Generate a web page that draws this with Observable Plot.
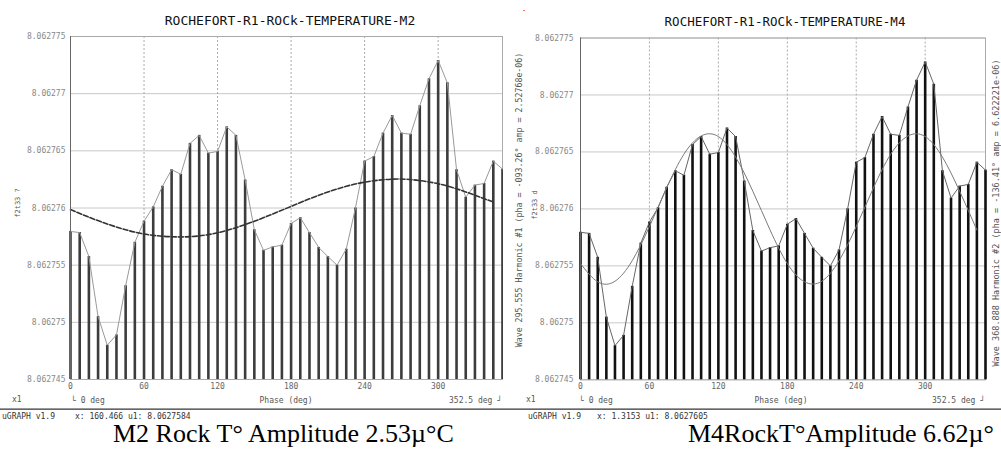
<!DOCTYPE html>
<html>
<head>
<meta charset="utf-8">
<script src="https://cdn.jsdelivr.net/npm/d3@7"></script>
<script src="https://cdn.jsdelivr.net/npm/@observablehq/plot@0.6"></script>
<style>
  html, body { margin: 0; padding: 0; background: #fff; }
  #wrap { position: relative; width: 1001px; height: 449px; overflow: hidden; background: #fff; }
  .t { position: absolute; white-space: nowrap; font-family: "DejaVu Sans Mono", monospace; color: #555; font-size: 8px; line-height: 8px; }
  .title { font-size: 13px; line-height: 13px; color: #111; transform: translateX(-50%); }
  .rot { transform: translate(-50%, -50%) rotate(-90deg); }
  .cap { position: absolute; white-space: nowrap; font-family: "Liberation Serif", "Times New Roman", serif; font-size: 26px; line-height: 26px; color: #000; }
  .sep { position: absolute; left: 0; width: 1001px; top: 408px; height: 1px; background: #999; border-bottom: 1px solid #666; }
  .panel { position: absolute; top: 0; }
</style>
</head>
<body>
<div id="wrap"></div>
<script>
// ---- data ----
const phases = [0, 7.5, 15, 22.5, 30, 37.5, 45, 52.5, 60, 67.5, 75, 82.5, 90, 97.5, 105, 112.5,
  120, 127.5, 135, 142.5, 150, 157.5, 165, 172.5, 180, 187.5, 195, 202.5, 210, 217.5, 225, 232.5,
  240, 247.5, 255, 262.5, 270, 277.5, 285, 292.5, 300, 307.5, 315, 322.5, 330, 337.5, 345, 352.5];
const rockTemp = [8.06275795, 8.06275785, 8.06275575, 8.0627505, 8.062748, 8.0627489, 8.0627532, 8.062757,
  8.06275885, 8.0627601, 8.0627619, 8.06276335, 8.06276295, 8.06276565, 8.06276635, 8.0627648,
  8.06276495, 8.0627671, 8.06276635, 8.06276245, 8.0627581, 8.0627563, 8.0627566, 8.06275675,
  8.06275865, 8.06275915, 8.06275785, 8.06275655, 8.06275575, 8.062755, 8.0627564, 8.06276,
  8.0627641, 8.0627645, 8.06276655, 8.0627681, 8.06276655, 8.06276645, 8.06276895, 8.0627713,
  8.0627729, 8.06277095, 8.06276335, 8.06276095, 8.062762, 8.06276215, 8.0627641, 8.0627634];
const fitPhases = [0, 15, 30, 45, 60, 75, 90, 105, 120, 135, 150, 165, 180, 195, 210, 225, 240, 255, 270, 285, 300, 315, 330, 345];
const fitM2 = [8.06275986, 8.0627592, 8.0627586, 8.0627581, 8.06275772, 8.06275753, 8.06275747, 8.06275756,
  8.06275783, 8.06275828, 8.06275884, 8.06275948, 8.06276014, 8.0627608, 8.0627614, 8.0627619,
  8.06276226, 8.06276247, 8.06276253, 8.0627624, 8.06276212, 8.06276168, 8.06276112, 8.06276052];
const fitM4 = [8.0627552, 8.0627536, 8.06275365, 8.06275545, 8.06275845, 8.06276185, 8.0627648, 8.0627664,
  8.06276635, 8.06276455, 8.06276155, 8.06275815, 8.0627552, 8.0627536, 8.06275365, 8.06275545,
  8.06275845, 8.06276185, 8.0627648, 8.0627664, 8.06276635, 8.06276455, 8.06276155, 8.06275815];
const yTicks = [8.062745, 8.06275, 8.062755, 8.06276, 8.062765, 8.06277, 8.062775];
const yTickLabels = ["8.062745", "8.06275", "8.062755", "8.06276", "8.062765", "8.06277", "8.062775"];
const xTicks = [0, 60, 120, 180, 240, 300];
const xGrid = [60, 120, 180, 240, 300];

const bars = phases.map((p, i) => ({phase: p, value: rockTemp[i]}));
const m2 = fitPhases.map((p, i) => ({phase: p, value: fitM2[i]}));
const m4 = fitPhases.map((p, i) => ({phase: p, value: fitM4[i]}));
const yBase = yTicks[0];

function makePanel(o) {
  return Plot.plot({
    width: o.width, height: 400,
    marginLeft: o.ml, marginRight: o.mr, marginTop: o.mt, marginBottom: o.mb,
    style: {fontFamily: "DejaVu Sans Mono, monospace", fontSize: "8px", color: "#666", background: "transparent"},
    x: {domain: [0, 352.5]},
    y: {domain: [yTicks[0], yTicks[yTicks.length - 1]]},
    marks: [
      Plot.gridY(yTicks, {stroke: "#c8c8c8", strokeOpacity: 1}),
      Plot.gridX(xGrid, {stroke: "#aaa", strokeOpacity: 1, strokeDasharray: "2,2"}),
      Plot.frame({stroke: "#aaa"}),
      Plot.ruleX(bars, {x: "phase", y1: yBase, y2: "value", stroke: o.barColor, strokeWidth: o.barWidth}),
      Plot.line(bars, {x: "phase", y: "value", stroke: o.lineColor, strokeWidth: 1}),
      Plot.line(o.fit, {x: "phase", y: "value", curve: "natural", stroke: o.fitColor, strokeWidth: o.fitWidth, strokeDasharray: o.fitDash}),
      Plot.ruleX([0], {stroke: "#666"}),
      Plot.axisY(yTicks, {tickSize: 0, tickPadding: o.pad, tickFormat: (d, i) => yTickLabels[i], label: null, fill: "#888"}),
      Plot.axisX(xTicks, {tickSize: 0, tickPadding: 4, label: null, fill: "#666"})
    ]
  });
}

const wrap = document.getElementById("wrap");

const left = makePanel({width: 503, ml: 70, mr: 1, mt: 36, mb: 21, fit: m2,
  barColor: "#3c3c3c", barWidth: 2.6, lineColor: "#9a9a9a",
  fitColor: "#333", fitWidth: 1.6, fitDash: "5,2", pad: 5});
left.classList.add("panel");
left.style.left = "0px";
wrap.appendChild(left);

const right = makePanel({width: 498, ml: 77, mr: 16, mt: 37.5, mb: 20.7, fit: m4,
  barColor: "#111", barWidth: 2.6, lineColor: "#666",
  fitColor: "#7a7a7a", fitWidth: 1, fitDash: null, pad: 7});
right.classList.add("panel");
right.style.left = "503px";
wrap.appendChild(right);

function addText(txt, cls, css) {
  const d = document.createElement("div");
  d.className = cls;
  d.textContent = txt;
  Object.assign(d.style, css);
  wrap.appendChild(d);
  return d;
}

// left panel texts
addText("ROCHEFORT-R1-ROCk-TEMPERATURE-M2", "t title", {left: "290px", top: "14px"});
addText("f2t33 ?", "t rot", {left: "18px", top: "203px", fontSize: "7px"});
addText("x1", "t", {left: "12px", top: "396px"});
addText("└ 0 deg", "t", {left: "71px", top: "397px"});
addText("Phase (deg)", "t", {left: "286px", top: "397px", transform: "translateX(-50%)"});
addText("352.5 deg ┘", "t", {left: "502px", top: "397px", transform: "translateX(-100%)"});
addText("uGRAPH v1.9", "t", {left: "2px", top: "413px", color: "#333"});
addText("x: 160.466 u1: 8.0627584", "t", {left: "75px", top: "413px", color: "#333"});
addText("M2 Rock T° Amplitude 2.53µ°C", "cap", {left: "113px", top: "421px"});

// right panel texts
addText("ROCHEFORT-R1-ROCk-TEMPERATURE-M4", "t title", {left: "785px", top: "15px", fontSize: "12.5px"});
addText("Wave 295.555 Harmonic #1 (pha = -093.26° amp = 2.52768e-06)", "t rot", {left: "519px", top: "200px", fontSize: "8.3px"});
addText("f2t33 d", "t rot", {left: "535px", top: "205px", fontSize: "7px"});
addText("Wave 368.888 Harmonic #2 (pha = -136.41° amp = 6.622221e-06)", "t rot", {left: "996px", top: "213px", fontSize: "8.5px"});
addText("x1", "t", {left: "526px", top: "396px"});
addText("└ 0 deg", "t", {left: "579px", top: "397px"});
addText("Phase (deg)", "t", {left: "781px", top: "397px", transform: "translateX(-50%)"});
addText("352.5 deg ┘", "t", {left: "985px", top: "397px", transform: "translateX(-100%)"});
addText("uGRAPH v1.9", "t", {left: "528px", top: "413px", color: "#333"});
addText("x: 1.3153 u1: 8.0627605", "t", {left: "597px", top: "413px", color: "#333"});
addText("M4RockT°Amplitude 6.62µ°", "cap", {left: "688px", top: "421px"});

const sep = document.createElement("div");
sep.className = "sep";
wrap.appendChild(sep);

const dot = document.createElement("div");
Object.assign(dot.style, {position: "absolute", left: "523px", top: "10px", width: "2px", height: "1px", background: "#f66"});
wrap.appendChild(dot);
</script>
</body>
</html>
